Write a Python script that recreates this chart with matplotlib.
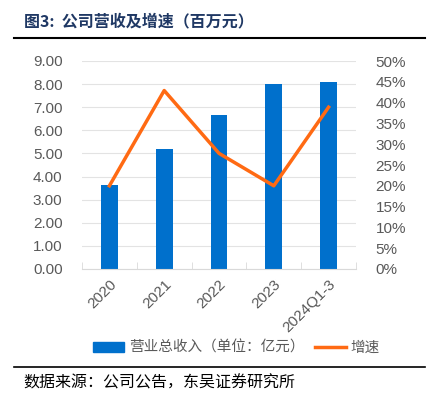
import matplotlib
matplotlib.use("Agg")
import matplotlib.pyplot as plt
from matplotlib.ticker import FuncFormatter, MultipleLocator
from matplotlib.lines import Line2D
from matplotlib.patches import Patch

plt.rcParams['font.family'] = ['Liberation Sans', 'Noto Sans CJK SC', 'DejaVu Sans']

categories = ['2020', '2021', '2022', '2023', '2024Q1-3']
revenue = [3.64, 5.21, 6.66, 8.00, 8.09]
growth = [0.20, 0.429, 0.278, 0.20, 0.389]

bar_color = '#0070CC'
line_color = '#FF6A13'
tick_color = '#595959'
grid_color = '#E3E3E3'

fig = plt.figure(figsize=(4.29, 3.94), dpi=100)
ax = fig.add_axes([82/429, 1-269/394, (356-82)/429, (269-61)/394])
x = list(range(len(categories)))
ax.bar(x, revenue, width=0.31, color=bar_color, zorder=2)
ax.set_xlim(-0.5, len(categories)-0.5)
ax.set_ylim(0, 9)
ax.yaxis.set_major_locator(MultipleLocator(1))
ax.yaxis.set_major_formatter(FuncFormatter(lambda v, p: f'{v:.2f}'))
ax.grid(axis='y', color=grid_color, linewidth=0.8, zorder=0)
for s in ['top', 'right', 'left']:
    ax.spines[s].set_visible(False)
ax.spines['bottom'].set_color('#D9D9D9')
ax.tick_params(axis='y', length=0, labelsize=11, labelcolor=tick_color, pad=14)
ax.set_xticks(x)
ax.set_xticklabels(categories, rotation=45, ha='right', rotation_mode='anchor', fontsize=11, color=tick_color)
ax.tick_params(axis='x', length=0, pad=6)
ax.set_xticks([i-0.5 for i in range(len(categories)+1)], minor=True)
ax.tick_params(axis='x', which='minor', length=5, color='#D9D9D9', direction='in')

ax2 = ax.twinx()
ax2.plot(x, growth, color=line_color, linewidth=2.5, zorder=3)
ax2.set_ylim(0, 0.5)
ax2.yaxis.set_major_locator(MultipleLocator(0.05))
ax2.yaxis.set_major_formatter(FuncFormatter(lambda v, p: f'{v*100:.0f}%'))
for s in ['top', 'right', 'left', 'bottom']:
    ax2.spines[s].set_visible(False)
ax2.tick_params(axis='y', length=0, labelsize=11, labelcolor=tick_color, pad=14)

handles = [Patch(color=bar_color), Line2D([0], [0], color=line_color, linewidth=2.5)]
labels = ['营业总收入（单位：亿元）', '增速']
fig.legend(handles, labels, loc='center left', bbox_to_anchor=(93/429, 1-348/394), ncol=2, frameon=False,
           prop={'family': ['Noto Sans CJK SC'], 'size': 10.5}, labelcolor=tick_color,
           handlelength=2.1, handletextpad=0.35, columnspacing=0.75, borderpad=0, borderaxespad=0)

fig.text(24/429, 1-21/394, '图3:  公司营收及增速（百万元）', fontsize=11.5, fontweight='bold',
         color='#1F3864', va='center', ha='left', family=['Noto Sans CJK SC'])
fig.add_artist(Line2D([14/429, 425/429], [1-38/394, 1-38/394], color='black', linewidth=1.5))
fig.add_artist(Line2D([14/429, 425/429], [1-367/394, 1-367/394], color='black', linewidth=1.2))
fig.text(23/429, 1-383/394, '数据来源：公司公告，东吴证券研究所', fontsize=11.5, color='black',
         va='center', ha='left', family=['Noto Sans CJK SC'])

fig.savefig('out.png', dpi=100)
